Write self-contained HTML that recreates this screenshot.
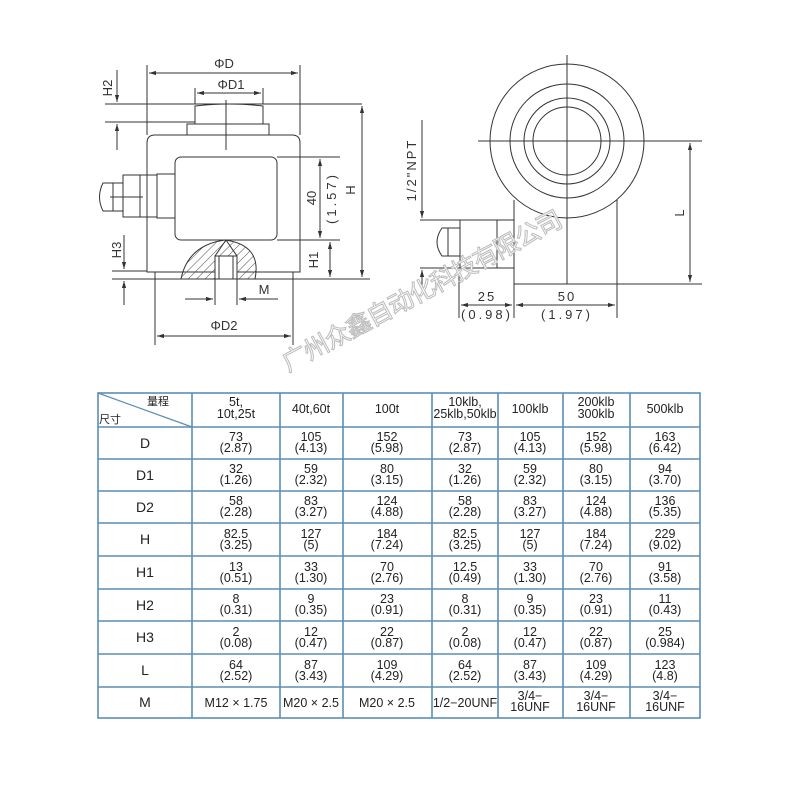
<!DOCTYPE html>
<html><head><meta charset="utf-8"><style>
html,body{margin:0;padding:0;background:#fff;}
svg{display:block;}
.d{stroke:#333;stroke-width:1;fill:none;}
.t{font-family:"Liberation Sans","DejaVu Sans",sans-serif;fill:#333;font-size:13px;text-anchor:middle;}
.c{font-family:"Liberation Sans","Noto Sans CJK SC",sans-serif;fill:#222;font-size:12.5px;text-anchor:middle;}
</style></head><body>
<svg width="800" height="800" viewBox="0 0 800 800" xmlns="http://www.w3.org/2000/svg">
<defs>
<marker id="a" viewBox="0 0 10 10" refX="10" refY="5" markerWidth="7" markerHeight="7" orient="auto-start-reverse"><path d="M0,2 L10,5 L0,8 z" fill="#333"/></marker>
<pattern id="h" width="6" height="6" patternUnits="userSpaceOnUse" patternTransform="rotate(45)"><line x1="0" y1="0" x2="0" y2="6" stroke="#555" stroke-width="1"/></pattern>
</defs>
<!-- LEFT DRAWING -->
<g class="d">
<line x1="147" y1="65" x2="147" y2="135"/><line x1="300" y1="65" x2="300" y2="135"/>
<line x1="149" y1="73" x2="298" y2="73" marker-start="url(#a)" marker-end="url(#a)"/>
<line x1="195" y1="88" x2="195" y2="104"/><line x1="263" y1="88" x2="263" y2="104"/>
<line x1="197" y1="93" x2="261" y2="93" marker-start="url(#a)" marker-end="url(#a)"/>
<line x1="105" y1="104" x2="362" y2="104"/><line x1="105" y1="122" x2="195" y2="122"/>
<line x1="117" y1="70" x2="117" y2="102" marker-end="url(#a)"/><line x1="117" y1="150" x2="117" y2="124" marker-end="url(#a)"/>
<path d="M195,106 Q229,102 263,106 L263,124 L195,124 Z"/>
<rect x="187" y="124" width="82" height="11"/>
<line x1="226" y1="100" x2="226" y2="150"/>
<path d="M147,272 L147,143 Q147,135 155,135 L292,135 Q300,135 300,143 L300,272 Z"/>
<rect x="175" y="157" width="102" height="83" rx="6"/>
<rect x="157" y="174" width="18" height="44"/>
<rect x="123" y="175" width="34" height="42"/>
<line x1="140" y1="175" x2="140" y2="217"/>
<path d="M123,183 L103,183 Q96,197 103,211 L123,211"/>
<line x1="113" y1="183" x2="113" y2="211"/>
<line x1="110" y1="197" x2="143" y2="197"/>
<path d="M181,279 Q188,245 225,240 Q262,245 255,279" fill="url(#h)"/>
<rect x="215" y="256" width="22" height="23" fill="#fff"/>
<line x1="219" y1="256" x2="219" y2="279"/><line x1="233" y1="256" x2="233" y2="279"/>
<path d="M215,256 L226,240 L237,256"/>
<line x1="155" y1="272" x2="155" y2="345"/><line x1="293" y1="272" x2="293" y2="345"/>
<line x1="112" y1="279" x2="370" y2="279"/><line x1="112" y1="271" x2="147" y2="271"/>
<line x1="124" y1="235" x2="124" y2="269" marker-end="url(#a)"/><line x1="124" y1="305" x2="124" y2="281" marker-end="url(#a)"/>
<line x1="157" y1="336" x2="291" y2="336" marker-start="url(#a)" marker-end="url(#a)"/>
<line x1="215" y1="279" x2="215" y2="305"/><line x1="237" y1="279" x2="237" y2="305"/>
<line x1="185" y1="299" x2="213" y2="299" marker-end="url(#a)"/><line x1="278" y1="299" x2="239" y2="299" marker-end="url(#a)"/>
<line x1="277" y1="157" x2="340" y2="157"/><line x1="277" y1="240" x2="340" y2="240"/>
<line x1="320" y1="159" x2="320" y2="238" marker-start="url(#a)" marker-end="url(#a)"/>
<line x1="330" y1="242" x2="330" y2="277" marker-start="url(#a)" marker-end="url(#a)"/>
<line x1="362" y1="106" x2="362" y2="277" marker-start="url(#a)" marker-end="url(#a)"/>
</g>
<text class="t" x="224" y="68">ΦD</text>
<text class="t" x="231" y="89">ΦD1</text>
<text class="t" x="224" y="330">ΦD2</text>
<text class="t" x="264" y="294">M</text>
<text class="t" transform="translate(112,88) rotate(-90)">H2</text>
<text class="t" transform="translate(121,250) rotate(-90)">H3</text>
<text class="t" transform="translate(318,260) rotate(-90)">H1</text>
<text class="t" transform="translate(355,190) rotate(-90)">H</text>
<text class="t" transform="translate(316,198) rotate(-90)">40</text>
<text class="t" transform="translate(336,198) rotate(-90)" letter-spacing="3">(1.57)</text>
<!-- RIGHT DRAWING -->
<g class="d">
<circle cx="567" cy="141" r="77"/><circle cx="567" cy="141" r="57"/><circle cx="567" cy="141" r="43"/><circle cx="567" cy="141" r="34"/>
<line x1="567" y1="55" x2="567" y2="284"/><line x1="478" y1="141" x2="702" y2="141"/>
<path d="M514,200 L514,284 L617,284 L617,200"/>
<line x1="617" y1="284" x2="702" y2="284"/>
<line x1="420" y1="220" x2="514" y2="220"/><line x1="420" y1="268" x2="514" y2="268"/>
<rect x="460" y="220" width="37" height="48"/>
<path d="M460,228 L442,228 Q432,242 442,256 L460,256 Z"/><line x1="448" y1="228" x2="448" y2="256"/>
<line x1="422" y1="120" x2="422" y2="218" marker-end="url(#a)"/><line x1="422" y1="290" x2="422" y2="270" marker-end="url(#a)"/>
<line x1="690" y1="143" x2="690" y2="282" marker-start="url(#a)" marker-end="url(#a)"/>
<line x1="459" y1="270" x2="459" y2="318"/><line x1="514" y1="284" x2="514" y2="318"/><line x1="617" y1="284" x2="617" y2="318"/>
<line x1="461" y1="305" x2="512" y2="305" marker-start="url(#a)" marker-end="url(#a)"/>
<line x1="516" y1="305" x2="615" y2="305" marker-start="url(#a)" marker-end="url(#a)"/>
</g>
<text class="t" transform="translate(416,170) rotate(-90)" letter-spacing="2">1/2"NPT</text>
<text class="t" transform="translate(684,213) rotate(-90)">L</text>
<text class="t" x="487" y="301" letter-spacing="2">25</text>
<text class="t" x="487" y="319" letter-spacing="3">(0.98)</text>
<text class="t" x="567" y="301" letter-spacing="2">50</text>
<text class="t" x="567" y="319" letter-spacing="3">(1.97)</text>
<text transform="translate(288,372) rotate(-28)" font-family="'Noto Sans CJK SC',sans-serif" font-size="25" fill="#fff" stroke="#bbb" stroke-width="1" letter-spacing="-1">广州众鑫自动化科技有限公司</text>
<!-- TABLE -->
<g stroke="#5b8db5" stroke-width="1.6" fill="none">
<rect x="98" y="393" width="602" height="325"/>
<line x1="192" y1="393" x2="192" y2="718"/><line x1="280" y1="393" x2="280" y2="718"/><line x1="343" y1="393" x2="343" y2="718"/>
<line x1="432" y1="393" x2="432" y2="718"/><line x1="498" y1="393" x2="498" y2="718"/><line x1="563" y1="393" x2="563" y2="718"/><line x1="630" y1="393" x2="630" y2="718"/>
<line x1="98" y1="427" x2="700" y2="427"/><line x1="98" y1="459" x2="700" y2="459"/><line x1="98" y1="491" x2="700" y2="491"/>
<line x1="98" y1="523" x2="700" y2="523"/><line x1="98" y1="556" x2="700" y2="556"/><line x1="98" y1="589" x2="700" y2="589"/>
<line x1="98" y1="621" x2="700" y2="621"/><line x1="98" y1="654" x2="700" y2="654"/><line x1="98" y1="687" x2="700" y2="687"/>
<line x1="98" y1="393" x2="192" y2="427" stroke-width="1.2"/>
</g>
<g class="c">
<text x="158" y="405" font-size="11">量程</text>
<text x="110" y="423" font-size="11">尺寸</text>
<text x="236" y="406">5t,</text><text x="236" y="418">10t,25t</text>
<text x="311" y="413">40t,60t</text><text x="387" y="413">100t</text>
<text x="465" y="406">10klb,</text><text x="465" y="418">25klb,50klb</text>
<text x="530" y="413">100klb</text>
<text x="596" y="406">200klb</text><text x="596" y="418">300klb</text>
<text x="665" y="413">500klb</text>
<g font-size="14"><text x="145" y="448">D</text><text x="145" y="480">D1</text><text x="145" y="512">D2</text><text x="145" y="544">H</text><text x="145" y="577">H1</text><text x="145" y="610">H2</text><text x="145" y="642">H3</text><text x="145" y="675">L</text><text x="145" y="707">M</text></g>
</g>
<g class="c">
<!-- D -->
<text x="236" y="441">73</text><text x="236" y="452">(2.87)</text><text x="311" y="441">105</text><text x="311" y="452">(4.13)</text><text x="387" y="441">152</text><text x="387" y="452">(5.98)</text><text x="465" y="441">73</text><text x="465" y="452">(2.87)</text><text x="530" y="441">105</text><text x="530" y="452">(4.13)</text><text x="596" y="441">152</text><text x="596" y="452">(5.98)</text><text x="665" y="441">163</text><text x="665" y="452">(6.42)</text>
<!-- D1 -->
<text x="236" y="473">32</text><text x="236" y="484">(1.26)</text><text x="311" y="473">59</text><text x="311" y="484">(2.32)</text><text x="387" y="473">80</text><text x="387" y="484">(3.15)</text><text x="465" y="473">32</text><text x="465" y="484">(1.26)</text><text x="530" y="473">59</text><text x="530" y="484">(2.32)</text><text x="596" y="473">80</text><text x="596" y="484">(3.15)</text><text x="665" y="473">94</text><text x="665" y="484">(3.70)</text>
<!-- D2 -->
<text x="236" y="505">58</text><text x="236" y="516">(2.28)</text><text x="311" y="505">83</text><text x="311" y="516">(3.27)</text><text x="387" y="505">124</text><text x="387" y="516">(4.88)</text><text x="465" y="505">58</text><text x="465" y="516">(2.28)</text><text x="530" y="505">83</text><text x="530" y="516">(3.27)</text><text x="596" y="505">124</text><text x="596" y="516">(4.88)</text><text x="665" y="505">136</text><text x="665" y="516">(5.35)</text>
<!-- H -->
<text x="236" y="538">82.5</text><text x="236" y="549">(3.25)</text><text x="311" y="538">127</text><text x="311" y="549">(5)</text><text x="387" y="538">184</text><text x="387" y="549">(7.24)</text><text x="465" y="538">82.5</text><text x="465" y="549">(3.25)</text><text x="530" y="538">127</text><text x="530" y="549">(5)</text><text x="596" y="538">184</text><text x="596" y="549">(7.24)</text><text x="665" y="538">229</text><text x="665" y="549">(9.02)</text>
<!-- H1 -->
<text x="236" y="571">13</text><text x="236" y="582">(0.51)</text><text x="311" y="571">33</text><text x="311" y="582">(1.30)</text><text x="387" y="571">70</text><text x="387" y="582">(2.76)</text><text x="465" y="571">12.5</text><text x="465" y="582">(0.49)</text><text x="530" y="571">33</text><text x="530" y="582">(1.30)</text><text x="596" y="571">70</text><text x="596" y="582">(2.76)</text><text x="665" y="571">91</text><text x="665" y="582">(3.58)</text>
<!-- H2 -->
<text x="236" y="603">8</text><text x="236" y="614">(0.31)</text><text x="311" y="603">9</text><text x="311" y="614">(0.35)</text><text x="387" y="603">23</text><text x="387" y="614">(0.91)</text><text x="465" y="603">8</text><text x="465" y="614">(0.31)</text><text x="530" y="603">9</text><text x="530" y="614">(0.35)</text><text x="596" y="603">23</text><text x="596" y="614">(0.91)</text><text x="665" y="603">11</text><text x="665" y="614">(0.43)</text>
<!-- H3 -->
<text x="236" y="636">2</text><text x="236" y="647">(0.08)</text><text x="311" y="636">12</text><text x="311" y="647">(0.47)</text><text x="387" y="636">22</text><text x="387" y="647">(0.87)</text><text x="465" y="636">2</text><text x="465" y="647">(0.08)</text><text x="530" y="636">12</text><text x="530" y="647">(0.47)</text><text x="596" y="636">22</text><text x="596" y="647">(0.87)</text><text x="665" y="636">25</text><text x="665" y="647">(0.984)</text>
<!-- L -->
<text x="236" y="669">64</text><text x="236" y="680">(2.52)</text><text x="311" y="669">87</text><text x="311" y="680">(3.43)</text><text x="387" y="669">109</text><text x="387" y="680">(4.29)</text><text x="465" y="669">64</text><text x="465" y="680">(2.52)</text><text x="530" y="669">87</text><text x="530" y="680">(3.43)</text><text x="596" y="669">109</text><text x="596" y="680">(4.29)</text><text x="665" y="669">123</text><text x="665" y="680">(4.8)</text>
<!-- M -->
<text x="236" y="707">M12 × 1.75</text><text x="311" y="707">M20 × 2.5</text><text x="387" y="707">M20 × 2.5</text><text x="465" y="707">1/2−20UNF</text>
<text x="530" y="700">3/4−</text><text x="530" y="711">16UNF</text><text x="596" y="700">3/4−</text><text x="596" y="711">16UNF</text><text x="665" y="700">3/4−</text><text x="665" y="711">16UNF</text>
</g>
</svg>
</body></html>
